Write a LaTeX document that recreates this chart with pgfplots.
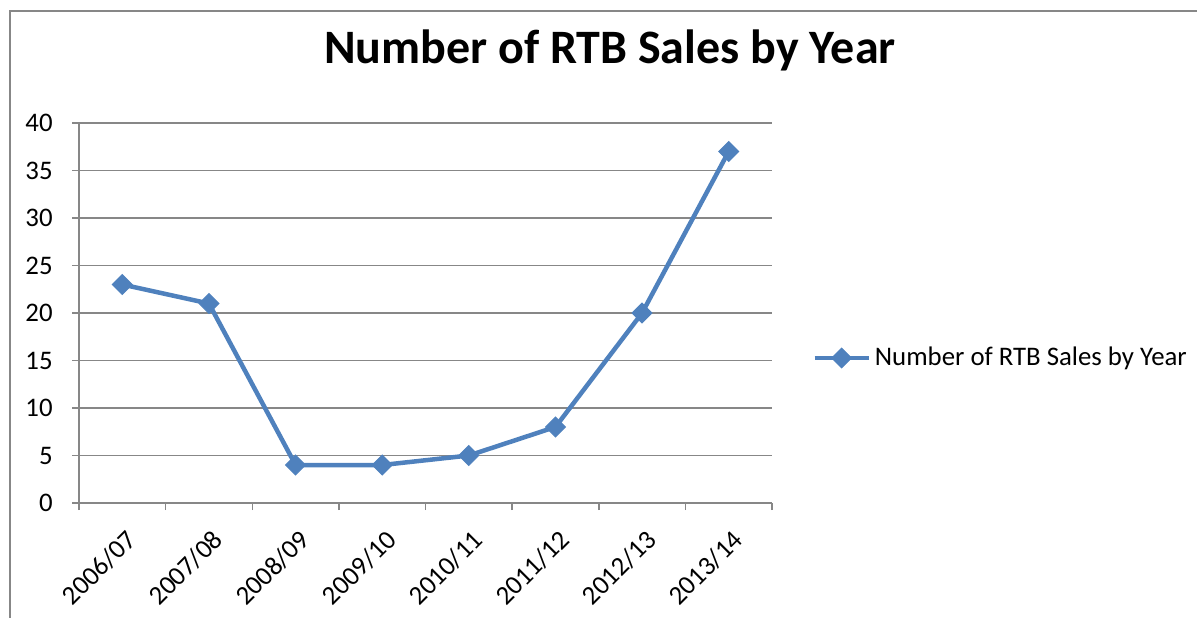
\documentclass[border=0pt]{standalone}
\usepackage{pgfplots}
\pgfplotsset{compat=1.18}
\usepackage{fontspec}
\setmainfont{Carlito}
\definecolor{serblue}{HTML}{4F81BD}
\definecolor{axgray}{HTML}{878787}
\begin{document}
\begin{tikzpicture}[x=1pt,y=1pt]
\useasboundingbox (-39.5,-57) rectangle (559,251.5);
\draw[axgray, line width=0.75pt] (-34.5,-60) -- (-34.5,246) -- (562,246);
\begin{axis}[
  at={(0pt,0pt)}, anchor=south west,
  scale only axis, width=346.5pt, height=190pt,
  xmin=-0.5, xmax=7.5, ymin=0, ymax=40,
  axis lines*=left,
  axis line style={axgray, line width=0.75pt},
  tick style={axgray, line width=0.75pt},
  tick align=outside,
  major tick length=0pt,
  minor tick length=3.5pt,
  xtick={0,...,7},
  xticklabels={2006/07,2007/08,2008/09,2009/10,2010/11,2011/12,2012/13,2013/14},
  minor xtick={-0.5,0.5,...,7.5},
  ytick={0,5,...,40},
  minor ytick={0,5,...,40},
  ymajorgrids,
  grid style={axgray, line width=0.75pt},
  /pgf/number format/assume math mode=true,
  tick label style={font=\fontsize{13.4}{15}\selectfont, text=black},
  xticklabel style={rotate=45, anchor=north east, inner sep=1pt, xshift=-6.9pt, yshift=-8.6pt},
  yticklabel style={inner sep=0pt, xshift=-13pt},
  clip=false,
  title={Number of RTB Sales by Year},
  title style={at={(rel axis cs:0.766,1.1605)}, anchor=center, font=\fontsize{24}{28}\selectfont\bfseries},
  legend style={at={(rel axis cs:1.0577,0.3816)}, anchor=west, draw=none, fill=none,
    font=\fontsize{13.4}{15}\selectfont, inner sep=0pt, cells={anchor=west}},
  legend image code/.code={\draw[mark repeat=2,mark phase=2,#1] plot coordinates {(0pt,0pt) (13.5pt,0pt) (27pt,0pt)};},
]
\addplot[serblue, line width=2.25pt, mark=square*, mark size=3.5pt, mark options={rotate=45, line width=0.5pt, fill=serblue}]
  coordinates {(0,23) (1,21) (2,4) (3,4) (4,5) (5,8) (6,20) (7,37)};
\addlegendentry{Number of RTB Sales by Year}
\end{axis}
\end{tikzpicture}
\end{document}
